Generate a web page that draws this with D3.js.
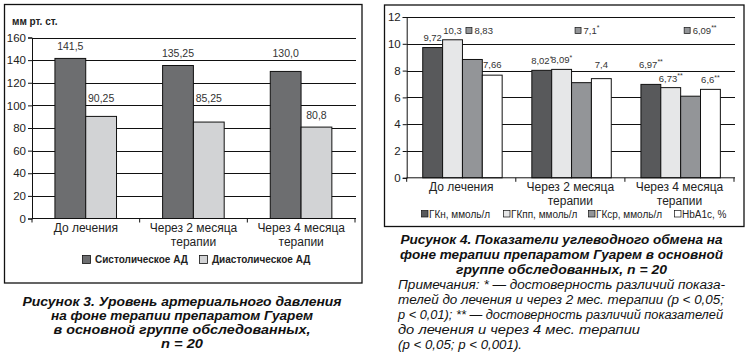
<!DOCTYPE html>
<html><head><meta charset="utf-8">
<script src="https://cdn.jsdelivr.net/npm/d3@7"></script>
<style>
html,body{margin:0;padding:0;background:#fff;}
svg{display:block;font-family:"Liberation Sans",Arial,sans-serif;}
</style></head>
<body>
<svg id="c" width="747" height="356"></svg>
<script>
// ---------- DATA ----------
const categoryLines = [["До лечения"], ["Через 2 месяца", "терапии"], ["Через 4 месяца", "терапии"]];
const bpSeries = ["Систолическое АД", "Диастолическое АД"];
const systolic = [141.5, 135.25, 130.0];
const diastolic = [90.25, 85.25, 80.8];
const bpTicks = [0, 20, 40, 60, 80, 100, 120, 140, 160];
const bpUnit = "мм рт. ст.";

const carbSeries = ["ГКн, ммоль/л", "ГКпп, ммоль/л", "ГКср, ммоль/л", "HbA1c, %"];
const gkn = [9.72, 8.02, 6.97];
const gkpp = [10.3, 8.09, 6.73];
const gkcp = [8.83, 7.1, 6.09];
const hba1c = [7.66, 7.4, 6.6];
const gknMarks = ["", "*", "**"];
const gkppMarks = ["", "*", "**"];
const gkcpMarks = ["", "*", "**"];
const hba1cMarks = ["", "", "**"];
const carbTicks = [0, 2, 4, 6, 8, 10, 12];

const caption3 = ["Рисунок 3. Уровень артериального давления", "на фоне терапии препаратом Гуарем", "в основной группе обследованных,", "n = 20"];
const caption4 = ["Рисунок 4. Показатели углеводного обмена на", "фоне терапии препаратом Гуарем в основной", "группе обследованных, n = 20"];
const notes4 = ["Примечания: * — достоверность различий показа-", "телей до лечения и через 2 мес. терапии (p < 0,05;", "p < 0,01); ** — достоверность различий показателей", "до лечения и через 4 мес. терапии", "(p < 0,05; p < 0,001)."];

// ---------- HELPERS ----------
const svg = d3.select("#c");
const fmt = v => (Number.isInteger(v) ? v.toFixed(1) : String(v)).replace(".", ",");
const fmt2 = v => String(v).replace(".", ",");
// move a label baseline above any gridline it would straddle
function avoidGrid(baseline, fs, gridYs) {
  let b = baseline;
  gridYs.forEach(gy => {
    if (gy > b - 0.75 * fs - 1 && gy < b + 3.5) b = gy - 4;
  });
  return b;
}

// ================= LEFT CHART =================
(function(){
  const g = svg.append("g");
  g.append("rect").attr("x", 4.5).attr("y", 4.5).attr("width", 357.5).attr("height", 278.5)
    .attr("fill", "none").attr("stroke", "#111").attr("stroke-width", 1.3);

  const y = d3.scaleLinear().domain([0, 160]).range([218.5, 37.5]);
  const x = d3.scaleBand().domain(d3.range(categoryLines.length)).range([32, 355]).padding(0);
  const bw = x.bandwidth();
  const xs = d3.scaleBand().domain(d3.range(bpSeries.length)).range([bw * 0.213, bw * 0.785]).padding(0);
  const colors = ["#6d6e70", "#d2d3d5"];
  const series = [systolic, diastolic];
  const gridYs = bpTicks.filter(t => t > 0).map(t => Math.round(y(t)) + 0.5);

  g.append("g").selectAll("line").data(gridYs).join("line")
    .attr("x1", 32).attr("x2", 356).attr("y1", d => d).attr("y2", d => d)
    .attr("stroke", "#111").attr("stroke-width", 1);

  const ya = g.append("g").attr("transform", "translate(32,0)")
    .call(d3.axisLeft(y).tickValues(bpTicks).tickSize(4).tickPadding(2).tickFormat(d3.format("d")));
  ya.select(".domain").attr("stroke", "#111");
  ya.selectAll(".tick line").attr("stroke", "#111");
  ya.selectAll(".tick text").attr("font-size", 11.5).attr("fill", "#222").attr("font-family", "Liberation Sans, Arial");

  const fs = 10.5;
  series.forEach((s, si) => {
    g.append("g").selectAll("rect").data(s).join("rect")
      .attr("x", (d, i) => x(i) + xs(si)).attr("width", xs.bandwidth())
      .attr("y", d => y(d)).attr("height", d => y(0) - y(d))
      .attr("fill", colors[si]).attr("stroke", "#111").attr("stroke-width", 1);
    g.append("g").selectAll("text").data(s).join("text")
      .attr("x", (d, i) => x(i) + xs(si) + xs.bandwidth() / 2)
      .attr("y", d => avoidGrid(y(d) - 8, fs, gridYs))
      .attr("text-anchor", "middle").attr("font-size", fs).attr("fill", "#333")
      .text(d => fmt(d));
  });

  g.append("line").attr("x1", 32).attr("x2", 356).attr("y1", y(0)).attr("y2", y(0)).attr("stroke", "#111");
  const bounds = d3.range(categoryLines.length + 1).map(i => 32 + i * bw);
  g.append("g").selectAll("line").data(bounds).join("line")
    .attr("x1", d => d).attr("x2", d => d).attr("y1", y(0)).attr("y2", y(0) + 4).attr("stroke", "#111");
  categoryLines.forEach((lines, i) => {
    lines.forEach((ln, li) => {
      g.append("text").attr("x", x(i) + bw / 2).attr("y", 232 + li * 13.5)
        .attr("text-anchor", "middle").attr("font-size", 12).attr("fill", "#222").text(ln);
    });
  });

  g.append("text").attr("x", 12).attr("y", 25).attr("font-size", 10).attr("font-weight", "bold")
    .attr("fill", "#222").text(bpUnit);

  const lx = [82, 199];
  bpSeries.forEach((s, si) => {
    g.append("rect").attr("x", lx[si] + 0.5).attr("y", 255.5).attr("width", 8).attr("height", 8)
      .attr("fill", colors[si]).attr("stroke", "#111").attr("stroke-width", 0.8);
    g.append("text").attr("x", lx[si] + 13).attr("y", 263).attr("font-size", 10).attr("font-weight", "bold")
      .attr("fill", "#222").text(s);
  });
})();

// ================= RIGHT CHART =================
(function(){
  const g = svg.append("g");
  g.append("rect").attr("x", 384.5).attr("y", 5).attr("width", 359.5).attr("height", 221.5)
    .attr("fill", "none").attr("stroke", "#111").attr("stroke-width", 1.3);

  const y = d3.scaleLinear().domain([0, 12]).range([177.8, 17]);
  const x = d3.scaleBand().domain(d3.range(categoryLines.length)).range([406.7, 734]).padding(0);
  const bw = x.bandwidth();
  const xs = d3.scaleBand().domain(d3.range(carbSeries.length)).range([bw * 0.147, bw * 0.875]).padding(0);
  const colors = ["#58595b", "#e6e7e8", "#939598", "#ffffff"];
  const series = [gkn, gkpp, gkcp, hba1c];
  const marks = [gknMarks, gkppMarks, gkcpMarks, hba1cMarks];
  const gridYs = carbTicks.filter(t => t > 0).map(t => Math.round(y(t)) + 0.5);

  g.append("g").selectAll("line").data(gridYs).join("line")
    .attr("x1", 406.7).attr("x2", 735).attr("y1", d => d).attr("y2", d => d)
    .attr("stroke", "#111").attr("stroke-width", 1);

  const ya = g.append("g").attr("transform", "translate(406.7,0)")
    .call(d3.axisLeft(y).tickValues(carbTicks).tickSize(4).tickPadding(2).tickFormat(d3.format("d")));
  ya.select(".domain").attr("stroke", "#111");
  ya.selectAll(".tick line").attr("stroke", "#111");
  ya.selectAll(".tick text").attr("font-size", 11.5).attr("fill", "#222").attr("font-family", "Liberation Sans, Arial");

  series.forEach((s, si) => {
    g.append("g").selectAll("rect").data(s).join("rect")
      .attr("x", (d, i) => x(i) + xs(si)).attr("width", xs.bandwidth())
      .attr("y", d => y(d)).attr("height", d => y(0) - y(d))
      .attr("fill", colors[si]).attr("stroke", "#111").attr("stroke-width", 1);
  });

  const labelFs = 9.5;
  const groupLabels = categoryLines.map(() => []);
  series.forEach((s, si) => {
    s.forEach((d, i) => {
      let t;
      if (si === 2) {
        // ГКср values are shown as keyed labels in the top row
        const bx = x(i) + xs(si) + 3;
        g.append("rect").attr("x", bx + 0.5).attr("y", 27.5).attr("width", 6).attr("height", 6)
          .attr("fill", colors[si]).attr("stroke", "#111").attr("stroke-width", 0.7);
        t = g.append("text").attr("x", bx + 9).attr("y", 33.5).attr("text-anchor", "start");
      } else {
        t = g.append("text").attr("x", x(i) + xs(si) + xs.bandwidth() / 2)
          .attr("y", avoidGrid(y(d) - 6, labelFs, gridYs))
          .attr("text-anchor", "middle");
      }
      t.attr("font-size", labelFs).attr("fill", "#333");
      t.append("tspan").text(fmt2(d));
      if (marks[si][i]) t.append("tspan").attr("font-size", 7).attr("dy", -3.5).text(marks[si][i]);
      if (si !== 2) groupLabels[i].push(t);
    });
  });
  groupLabels.forEach(labels => {
    for (let k = labels.length - 2; k >= 0; k--) {
      const a = labels[k].node().getBBox(), b = labels[k + 1].node().getBBox();
      const ox = Math.min(a.x + a.width, b.x + b.width) - Math.max(a.x, b.x);
      const oy = Math.min(a.y + a.height, b.y + b.height) - Math.max(a.y, b.y);
      if (ox > 3 && oy > 1) {
        labels[k].attr("y", avoidGrid(+labels[k + 1].attr("y") - 15, labelFs, gridYs));
      }
    }
  });

  g.append("line").attr("x1", 406.7).attr("x2", 735).attr("y1", y(0)).attr("y2", y(0)).attr("stroke", "#111");
  const bounds = d3.range(categoryLines.length + 1).map(i => 406.7 + i * bw);
  g.append("g").selectAll("line").data(bounds).join("line")
    .attr("x1", d => d).attr("x2", d => d).attr("y1", y(0)).attr("y2", y(0) + 4).attr("stroke", "#111");
  categoryLines.forEach((lines, i) => {
    lines.forEach((ln, li) => {
      g.append("text").attr("x", x(i) + bw / 2).attr("y", 190.5 + li * 14)
        .attr("text-anchor", "middle").attr("font-size", 12).attr("fill", "#222").text(ln);
    });
  });

  const lx = [421, 503, 588, 674];
  carbSeries.forEach((s, si) => {
    g.append("rect").attr("x", lx[si] + 0.5).attr("y", 210.5).attr("width", 6.5).attr("height", 6.5)
      .attr("fill", colors[si]).attr("stroke", "#111").attr("stroke-width", 0.7);
    g.append("text").attr("x", lx[si] + 8).attr("y", 217.5).attr("font-size", 10)
      .attr("fill", "#222").text(s);
  });
})();

// ================= CAPTIONS =================
const cap3Y = [306, 320, 333.5, 347.5];
const cap3W = [319, 262, 257, 42];
caption3.forEach((ln, i) => {
  svg.append("text").attr("x", 182).attr("y", cap3Y[i]).attr("text-anchor", "middle")
    .attr("font-size", 12).attr("font-weight", "bold").attr("font-style", "italic").attr("fill", "#111")
    .attr("textLength", cap3W[i]).attr("lengthAdjust", "spacingAndGlyphs").text(ln);
});
const cap4Y = [244, 259, 273.5];
const cap4W = [322, 323, 211];
caption4.forEach((ln, i) => {
  svg.append("text").attr("x", 561.5).attr("y", cap4Y[i]).attr("text-anchor", "middle")
    .attr("font-size", 12).attr("font-weight", "bold").attr("font-style", "italic").attr("fill", "#111")
    .attr("textLength", cap4W[i]).attr("lengthAdjust", "spacingAndGlyphs").text(ln);
});
const notesY = [289, 304, 319, 334, 349];
const notesW = [327, 326, 325, 242, 124];
notes4.forEach((ln, i) => {
  svg.append("text").attr("x", 398).attr("y", notesY[i]).attr("text-anchor", "start")
    .attr("font-size", 12).attr("font-style", "italic").attr("fill", "#111")
    .attr("textLength", notesW[i]).attr("lengthAdjust", "spacingAndGlyphs").text(ln);
});
</script>
</body></html>
